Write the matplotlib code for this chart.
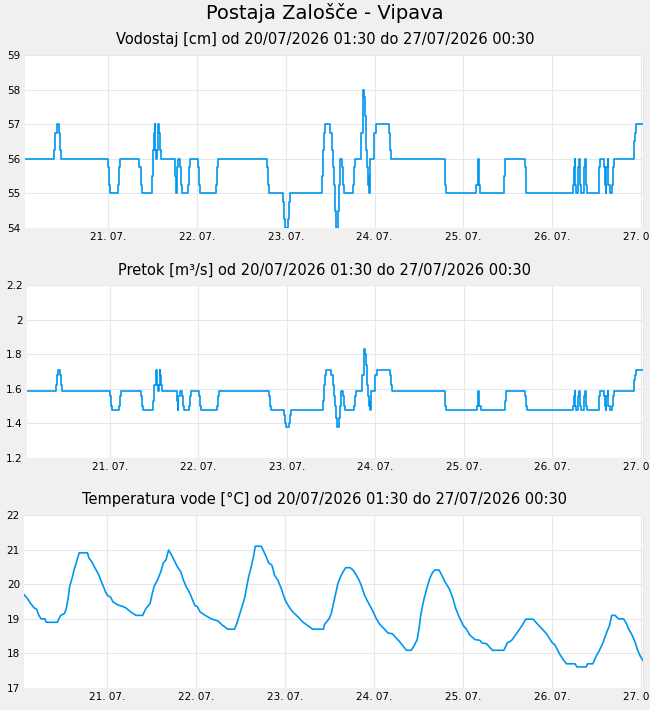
import matplotlib
matplotlib.use("Agg")
import matplotlib.pyplot as plt
from matplotlib.ticker import FuncFormatter

# hours counted from 20.07. 00:00
start_h = 1.5
end_h = 168.5
day_ticks = [24, 48, 72, 96, 120, 144, 168]
day_labels = ["21. 07.", "22. 07.", "23. 07.", "24. 07.", "25. 07.", "26. 07.", "27. 07."]

# water level / flow change points (step data)
step_t = [1.5, 9.4, 9.68, 10.04, 10.58, 10.85, 11.12, 24.01, 24.28, 24.55, 26.53, 26.8, 27.07,
          32.39, 32.75, 33.02, 35.73, 36.0, 36.36, 36.54, 36.72, 36.99, 37.17, 37.44, 37.62, 37.89,
          38.16, 42.13, 42.4, 42.58, 42.94, 43.48, 43.75, 44.02, 45.46, 45.73, 46.0, 48.17, 48.44,
          48.71, 53.03, 53.3, 53.58, 67.01, 67.28, 67.55, 71.15, 71.42, 71.69, 72.5, 72.77, 73.04,
          81.7, 81.97, 82.24, 82.51, 84.04, 84.4, 84.68, 84.95, 85.22, 85.49, 86.03, 86.3, 86.57,
          87.11, 87.38, 87.65, 90.08, 90.35, 90.62, 92.43, 92.79, 92.97, 93.15, 93.33, 93.6, 93.87,
          94.14, 94.41, 94.59, 94.77, 95.94, 96.3, 100.0, 100.27, 100.54, 114.96, 115.23, 123.53,
          123.89, 124.16, 124.52, 131.1, 131.37, 136.51, 136.78, 137.05, 149.49, 149.76, 150.03,
          150.21, 150.39, 150.93, 151.29, 151.47, 151.74, 152.46, 152.82, 153.09, 153.36, 156.52,
          156.97, 157.87, 158.14, 158.41, 158.59, 158.95, 159.13, 159.49, 160.12, 160.39, 160.66,
          165.98, 166.25, 166.52, 168.5]

level = [56, 56.25, 56.75, 57, 56.75, 56.25, 56, 55.75, 55.25, 55, 55.25, 55.75, 56,
         55.75, 55.25, 55, 55.5, 56.25, 56.75, 57, 56.25, 56, 56.25, 57, 56.75, 56.25,
         56, 55.5, 55, 55.75, 56, 55.75, 55.25, 55, 55.25, 55.75, 56, 55.75, 55.25,
         55, 55.25, 55.75, 56, 55.75, 55.25, 55, 54.75, 54.25, 54, 54.25, 54.75, 55,
         55.5, 56.25, 56.75, 57, 56.75, 56.25, 55.75, 55.25, 54.5, 54, 54.5, 55.25, 56,
         55.75, 55.25, 55, 55.25, 55.75, 56, 56.75, 57.5, 58, 57.8, 57.25, 56.25, 55.75,
         55.25, 55.5, 55, 56, 56.75, 57, 56.75, 56.25, 56, 55.25, 55, 55.25,
         56, 55.25, 55, 55.5, 56, 55.75, 55.25, 55, 55.25, 55.75, 56,
         55.25, 55, 55.75, 56, 55.25, 55, 55.75, 56, 55.25, 55, 55.75,
         56, 55.75, 55.25, 55, 55.75, 56, 55.25, 55, 55.25, 55.75, 56,
         56.5, 56.75, 57, 57]

flow = [1.59, 1.62, 1.68, 1.71, 1.68, 1.62, 1.59, 1.56, 1.50, 1.48, 1.50, 1.56, 1.59,
        1.56, 1.50, 1.48, 1.53, 1.62, 1.68, 1.71, 1.62, 1.59, 1.62, 1.71, 1.68, 1.62,
        1.59, 1.53, 1.48, 1.56, 1.59, 1.56, 1.50, 1.48, 1.50, 1.56, 1.59, 1.56, 1.50,
        1.48, 1.50, 1.56, 1.59, 1.56, 1.50, 1.48, 1.45, 1.40, 1.38, 1.40, 1.45, 1.48,
        1.53, 1.62, 1.68, 1.71, 1.68, 1.62, 1.56, 1.50, 1.43, 1.38, 1.43, 1.50, 1.59,
        1.56, 1.50, 1.48, 1.50, 1.56, 1.59, 1.68, 1.77, 1.83, 1.80, 1.74, 1.62, 1.56,
        1.50, 1.53, 1.48, 1.59, 1.68, 1.71, 1.68, 1.62, 1.59, 1.50, 1.48, 1.50,
        1.59, 1.50, 1.48, 1.53, 1.59, 1.56, 1.50, 1.48, 1.50, 1.56, 1.59,
        1.50, 1.48, 1.56, 1.59, 1.50, 1.48, 1.56, 1.59, 1.50, 1.48, 1.56,
        1.59, 1.56, 1.50, 1.48, 1.56, 1.59, 1.50, 1.48, 1.50, 1.56, 1.59,
        1.65, 1.68, 1.71, 1.71]

# water temperature
temp_t = [1.5, 2.4, 3.3, 4.2, 4.9, 5.5, 6.1, 7.15, 7.5, 10.5, 10.9, 11.5, 12.4, 12.9, 13.4,
          13.8, 14.4, 15.0, 15.6, 16.4, 18.6, 19.05, 19.8, 20.7, 21.6, 22.2, 22.9, 23.5, 24.0,
          24.9, 25.5, 26.7, 28.8, 30.3, 31.7, 33.5, 34.4, 35.5, 36.0, 36.6, 37.5, 38.4, 39.1,
          39.8, 40.5, 41.1, 42.0, 42.9, 43.8, 44.5, 45.4, 46.3, 47.0, 47.6, 48.3, 49.0, 50.4,
          52.0, 53.8, 55.1, 56.5, 58.3, 58.9, 59.6, 60.3, 61.0, 61.6, 62.1, 62.8, 63.4, 63.9,
          65.5, 66.1, 66.8, 67.5, 68.4, 69.1, 70.0, 70.9, 71.5, 72.2, 73.3, 74.2, 75.4, 76.7,
          78.1, 79.4, 82.3, 82.6, 83.8, 84.4, 85.0, 85.8, 86.2, 86.8, 87.6, 88.3, 89.5, 90.3,
          91.2, 91.9, 92.5, 93.4, 94.3, 95.5, 96.6, 97.5, 98.6, 99.7, 100.9, 101.8, 102.7,
          103.8, 104.7, 106.0, 106.7, 107.6, 108.1, 108.5, 109.0, 109.6, 110.3, 111.0, 111.7,
          112.3, 113.5, 114.1, 115.1, 116.2, 117.1, 118.0, 118.9, 120.0, 120.9, 121.8, 123.2,
          124.5, 125.1, 126.3, 127.9, 131.0, 131.9, 133.1, 134.4, 135.8, 136.9, 138.9, 139.8,
          141.2, 142.5, 143.9, 144.8, 146.0, 147.0, 147.9, 150.2, 150.7, 153.2, 153.6, 155.0,
          155.9, 156.8, 157.7, 158.6, 159.5, 160.1, 161.0, 161.9, 163.3, 164.0, 164.6, 165.5,
          166.4, 167.1, 167.8, 168.5]
temp = [19.70, 19.59, 19.44, 19.32, 19.28, 19.10, 19.0, 19.0, 18.9, 18.9, 19.0, 19.11, 19.15,
        19.3, 19.59, 19.94, 20.15, 20.41, 20.63, 20.91, 20.91, 20.75, 20.65, 20.46, 20.29,
        20.12, 19.94, 19.78, 19.68, 19.62, 19.49, 19.41, 19.33, 19.2, 19.1, 19.1, 19.3, 19.44,
        19.68, 19.94, 20.12, 20.36, 20.62, 20.7, 20.99, 20.89, 20.7, 20.5, 20.36, 20.12, 19.9,
        19.73, 19.54, 19.39, 19.35, 19.2, 19.1, 19.0, 18.94, 18.81, 18.7, 18.7, 18.86, 19.1,
        19.35, 19.59, 19.92, 20.21, 20.5, 20.79, 21.1, 21.1, 20.97, 20.81, 20.62, 20.55, 20.26,
        20.12, 19.88, 19.68, 19.49, 19.3, 19.18, 19.06, 18.91, 18.8, 18.7, 18.7, 18.84, 19.0,
        19.15, 19.44, 19.83, 20.02, 20.19, 20.36, 20.48, 20.48, 20.41, 20.26, 20.12, 19.97,
        19.68, 19.49, 19.25, 19.0, 18.84, 18.72, 18.59, 18.57, 18.46, 18.36, 18.21, 18.09,
        18.09, 18.21, 18.4, 18.72, 19.06, 19.36, 19.64, 19.92, 20.17, 20.33, 20.41, 20.41,
        20.29, 20.07, 19.88, 19.64, 19.3, 19.06, 18.81, 18.7, 18.53, 18.4, 18.38, 18.3, 18.28,
        18.09, 18.09, 18.3, 18.38, 18.57, 18.79, 18.99, 18.99, 18.88, 18.72, 18.57, 18.33,
        18.24, 17.99, 17.82, 17.7, 17.7, 17.61, 17.61, 17.7, 17.7, 17.92, 18.09, 18.3, 18.57,
        18.81, 19.1, 19.1, 19.0, 19.0, 18.88, 18.72, 18.55, 18.33, 18.09, 17.92, 17.8]

title = "Postaja Zalošče - Vipava"
period = "od 20/07/2026 01:30 do 27/07/2026 00:30"
line_color = "#0096f0"
grid_color = "#e8e8e8"

fig = plt.figure(figsize=(6.5, 7.1), dpi=100, facecolor="#f0f0f0")
fig.text(0.5, 0.981, title, ha="center", va="center", fontsize=14)

panels = [
    ([0.0385, 0.679, 0.9505, 0.2435], step_t, level, "steps-post", (54, 59), [54, 55, 56, 57, 58, 59],
     "Vodostaj [cm] " + period, 0.944),
    ([0.0415, 0.355, 0.9475, 0.2435], step_t, flow, "steps-post", (1.2, 2.2), [1.2, 1.4, 1.6, 1.8, 2.0, 2.2],
     "Pretok [m³/s] " + period, 0.620),
    ([0.0370, 0.031, 0.9520, 0.2435], temp_t, temp, "default", (17, 22), [17, 18, 19, 20, 21, 22],
     "Temperatura vode [°C] " + period, 0.297),
]

for rect, xs, ys, style, ylim, yticks, label, ty in panels:
    ax = fig.add_axes(rect)
    ax.set_facecolor("white")
    ax.plot(xs, ys, color=line_color, lw=1.2, drawstyle=style)
    ax.set_xlim(start_h, end_h)
    ax.set_ylim(*ylim)
    ax.set_yticks(yticks)
    ax.yaxis.set_major_formatter(FuncFormatter(lambda v, p: "%g" % round(v, 2)))
    ax.set_xticks(day_ticks)
    ax.set_xticklabels(day_labels)
    ax.tick_params(length=0, labelsize=7.5, pad=3)
    ax.grid(True, color=grid_color, lw=0.8)
    ax.set_axisbelow(True)
    for side in ["top", "left", "bottom"]:
        ax.spines[side].set_visible(False)
    ax.spines["right"].set_color(grid_color)
    fig.text(0.5, ty, label, ha="center", va="center", fontsize=10.5)

fig.savefig("out.png", dpi=100, facecolor=fig.get_facecolor())
